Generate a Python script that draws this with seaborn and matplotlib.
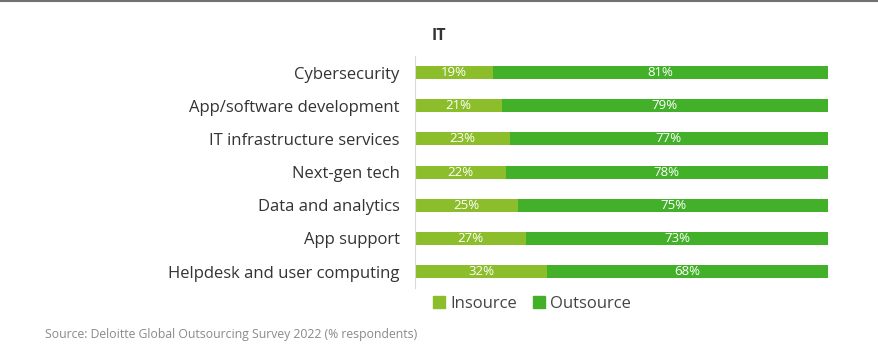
import matplotlib
matplotlib.use('Agg')
import matplotlib.pyplot as plt
import seaborn as sns
import pandas as pd
from matplotlib.lines import Line2D
from matplotlib.patches import Patch

categories = ["Cybersecurity", "App/software development", "IT infrastructure services",
              "Next-gen tech", "Data and analytics", "App support",
              "Helpdesk and user computing"]
insource = [19, 21, 23, 22, 25, 27, 32]
outsource = [81, 79, 77, 78, 75, 73, 68]

c_in = "#8cbd2a"
c_out = "#43b02a"

sns.set_theme(style="white")
plt.rcParams['font.family'] = ['Open Sans', 'DejaVu Sans']

df = pd.DataFrame({"category": categories, "Insource": insource, "Outsource": outsource})
df["Total"] = df["Insource"] + df["Outsource"]

fig = plt.figure(figsize=(8.79, 3.57), dpi=100)
ax = fig.add_axes([0.472, 0.193, 0.47, 0.650])

# stacked: draw total first (outsource colour), insource on top
sns.barplot(data=df, y="category", x="Total", color=c_out, orient="h",
            width=0.39, ax=ax, saturation=1, linewidth=0)
sns.barplot(data=df, y="category", x="Insource", color=c_in, orient="h",
            width=0.39, ax=ax, saturation=1, linewidth=0)

for i, (a, b) in enumerate(zip(insource, outsource)):
    ax.text(a / 2, i, f"{a}%", ha="center", va="center", color="white", fontsize=9.5)
    ax.text(a + b / 2, i, f"{b}%", ha="center", va="center", color="white", fontsize=9.5)

ax.set_xlim(0, 100)
ax.set_ylim(6.5, -0.5)
ax.set_xlabel("")
ax.set_ylabel("")
ax.set_xticks([])
ax.tick_params(axis="y", length=0, pad=11, labelsize=12, labelcolor="#333333")
for s in ["top", "right", "bottom"]:
    ax.spines[s].set_visible(False)
ax.spines["left"].set_color("#d9d9d9")
ax.spines["left"].set_linewidth(0.8)

fig.text(0.499, 0.9, "IT", ha="center", va="center", fontsize=11.5,
         fontweight="bold", color="#333333")

handles = [Patch(color=c_in, label="Insource"), Patch(color=c_out, label="Outsource")]
fig.legend(handles=handles, loc="center left", bbox_to_anchor=(0.476, 0.148), ncol=2,
           frameon=False, fontsize=12, handlelength=0.7, handleheight=0.7,
           handletextpad=0.3, columnspacing=1.0, labelcolor="#444444")

fig.text(0.051, 0.064, "Source: Deloitte Global Outsourcing Survey 2022 (% respondents)",
         ha="left", va="center", fontsize=8.8, color="#8a8a8a")

fig.add_artist(Line2D([0, 1], [0.998, 0.998], transform=fig.transFigure,
                      color="#707070", linewidth=1.5))

fig.savefig("out.png", dpi=100)
